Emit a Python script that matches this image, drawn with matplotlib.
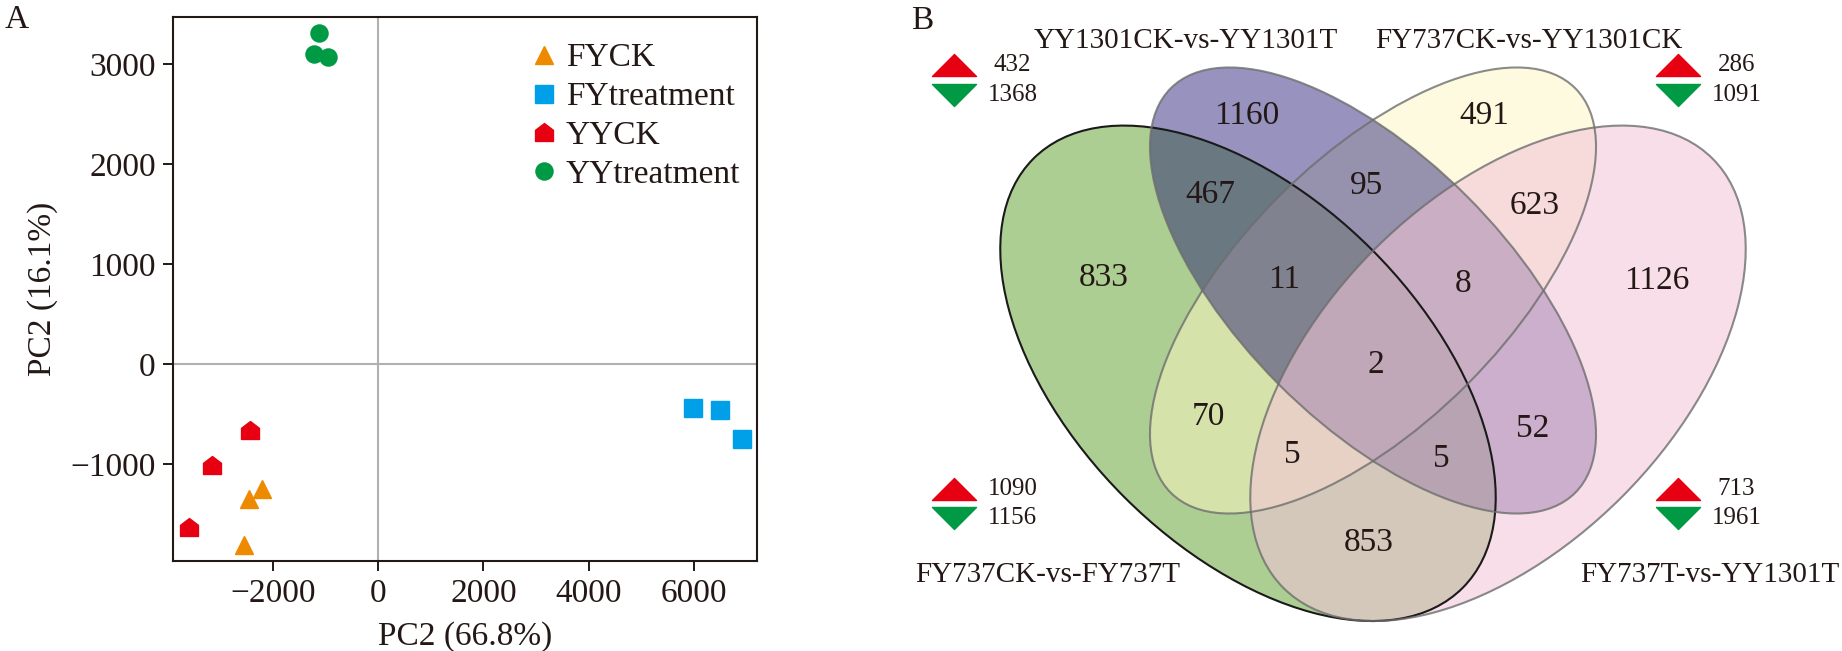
import matplotlib
matplotlib.use("Agg")
import matplotlib.pyplot as plt
from matplotlib.patches import Ellipse
from matplotlib.path import Path

plt.rcParams['font.family'] = ['Liberation Serif', 'DejaVu Serif']

# ---------------- data ----------------
fyck_x = [-2199, -2446, -2541]
fyck_y = [-1246, -1353, -1813]
fyt_x = [5984, 6500, 6904]
fyt_y = [-440, -457, -752]
yyck_x = [-2433, -3154, -3585]
yyck_y = [-656, -1012, -1633]
yyt_x = [-1121, -1213, -946]
yyt_y = [3308, 3100, 3071]
group_names = ['FYCK', 'FYtreatment', 'YYCK', 'YYtreatment']

x_ticks = [-2000, 0, 2000, 4000, 6000]
y_ticks = [-1000, 0, 1000, 2000, 3000]

set_names = ['FY737CK-vs-FY737T', 'YY1301CK-vs-YY1301T',
             'FY737CK-vs-YY1301CK', 'FY737T-vs-YY1301T']
up_counts = [1090, 432, 286, 713]
down_counts = [1156, 1368, 1091, 1961]
region_counts = [833, 1160, 491, 1126, 467, 95, 623, 11, 8, 2, 70, 52, 5, 5, 853]

# ---------------- style ----------------
C_ORANGE = '#EE8A00'
C_BLUE = '#00A0E9'
C_RED = '#E60012'
C_GREEN = '#009944'
TXT = '#231815'
FS = 24

house = Path([(-0.5, -0.5), (0.5, -0.5), (0.5, 0.12), (0.0, 0.5), (-0.5, 0.12), (-0.5, -0.5)],
             [Path.MOVETO, Path.LINETO, Path.LINETO, Path.LINETO, Path.LINETO, Path.CLOSEPOLY])
up_tri = Path([(-1, -0.5), (1, -0.5), (0, 0.5), (-1, -0.5)],
              [Path.MOVETO, Path.LINETO, Path.LINETO, Path.CLOSEPOLY])
down_tri = Path([(-1, 0.5), (1, 0.5), (0, -0.5), (-1, 0.5)],
                [Path.MOVETO, Path.LINETO, Path.LINETO, Path.CLOSEPOLY])

W, H = 1842, 651
fig = plt.figure(figsize=(W / 100, H / 100), dpi=100)

# ---------------- panel A ----------------
L, R, T, B = 173, 757, 17.4, 561
axA = fig.add_axes([L / W, (H - B) / H, (R - L) / W, (B - T) / H])
ms = 12.3
axA.axhline(0, color='#B0B0B0', lw=1.5, zorder=1)
axA.axvline(0, color='#B0B0B0', lw=1.5, zorder=1)
axA.plot(fyck_x, fyck_y, ls='none', marker='^', ms=ms, color=C_ORANGE, label=group_names[0], zorder=3)
axA.plot(fyt_x, fyt_y, ls='none', marker='s', ms=ms, color=C_BLUE, label=group_names[1], zorder=3)
axA.plot(yyck_x, yyck_y, ls='none', marker=house, ms=ms * 1.05, color=C_RED, label=group_names[2], zorder=3)
axA.plot(yyt_x, yyt_y, ls='none', marker='o', ms=ms, color=C_GREEN, label=group_names[3], zorder=3)

axA.set_xlim(-3892, 7196)
axA.set_ylim(-1970, 3466)
axA.set_xticks(x_ticks)
axA.set_yticks(y_ticks)
axA.tick_params(direction='out', length=7.5, width=1.4, labelsize=FS, pad=5, colors=TXT)
for s in axA.spines.values():
    s.set_linewidth(1.5)
    s.set_color(TXT)
axA.set_xlabel('PC2 (66.8%)', fontsize=FS, color=TXT, labelpad=9)
axA.set_ylabel('PC2 (16.1%)', fontsize=FS, color=TXT, labelpad=9)
axA.legend(loc='upper left', bbox_to_anchor=((534 - L) / (R - L), 0.953), frameon=False,
           fontsize=FS, handlelength=0.6, handletextpad=0.35, labelspacing=0.25,
           borderpad=0, borderaxespad=0, numpoints=1, labelcolor=TXT)
fig.text(16.5 / W, 1 - 20 / H, 'A', fontsize=FS, ha='center', va='center', color=TXT)

# ---------------- panel B ----------------
axB = fig.add_axes([880 / W, 0, (W - 880) / W, 1])
axB.set_xlim(880, W)
axB.set_ylim(H, 0)
axB.axis('off')

cx = 1373
ellipses = [
    # (center x, center y, width, height, angle, face rgba, edge color, edge alpha)
    (cx - 125, 373.3, 607, 350, 45, (173/255, 206/255, 147/255, 1.0), '#1A1A1A', 1.0),
    (cx, 290.5, 286 * 2, 133 * 2, -45, (253/255, 247/255, 193/255, 0.5), '#6E6E6E', 0.8),
    (cx, 290.5, 286 * 2, 133 * 2, 45, (26/255, 17/255, 111/255, 0.45), '#6E6E6E', 0.8),
    (cx + 125, 373.3, 607, 350, -45, (243/255, 197/255, 216/255, 0.57), '#6E6E6E', 0.8),
]
for (ex, ey, ew, eh, ang, fc, ec, ea) in ellipses:
    axB.add_patch(Ellipse((ex, ey), ew, eh, angle=ang, facecolor=fc, edgecolor='none', zorder=2))
for i, (ex, ey, ew, eh, ang, fc, ec, ea) in enumerate(ellipses):
    axB.add_patch(Ellipse((ex, ey), ew, eh, angle=ang, facecolor='none', edgecolor=ec,
                          alpha=ea, lw=1.5, zorder=3 + i))

region_pos = [(1104, 278), (1247, 116), (1484, 116), (1657, 281), (1210, 195), (1366.5, 186),
              (1535, 205.5), (1284, 279.4), (1463, 283.5), (1376, 365), (1208, 417), (1533, 429),
              (1292, 454.5), (1441, 458.7), (1369, 543)]
for (px, py), n in zip(region_pos, region_counts):
    axB.text(px, py, str(n), fontsize=FS, ha='center', va='center', color=TXT, zorder=10)

set_label_pos = [(1047.5, 575), (1186, 41.5), (1528.5, 41.5), (1709.5, 575)]
for (px, py), name in zip(set_label_pos, set_names):
    axB.text(px, py, name, fontsize=21, ha='center', va='center', color=TXT, zorder=10)

arrow_pos = [(953.6, 489, 517.6), (953.6, 65, 94.6), (1677.5, 65, 94.6), (1677.5, 489, 517.6)]
for (ax_, yu, yd), u, d in zip(arrow_pos, up_counts, down_counts):
    axB.plot([ax_], [yu], ls='none', marker=up_tri, ms=31.7, color=C_RED, zorder=10)
    axB.plot([ax_], [yd], ls='none', marker=down_tri, ms=31.7, color=C_GREEN, zorder=10)
    axB.text(ax_ + 59, yu, str(u), fontsize=18, ha='center', va='center', color=TXT)
    axB.text(ax_ + 59, yd, str(d), fontsize=18, ha='center', va='center', color=TXT)

axB.text(922, 21, 'B', fontsize=FS, ha='center', va='center', color=TXT)

fig.savefig('out.png', dpi=100)
